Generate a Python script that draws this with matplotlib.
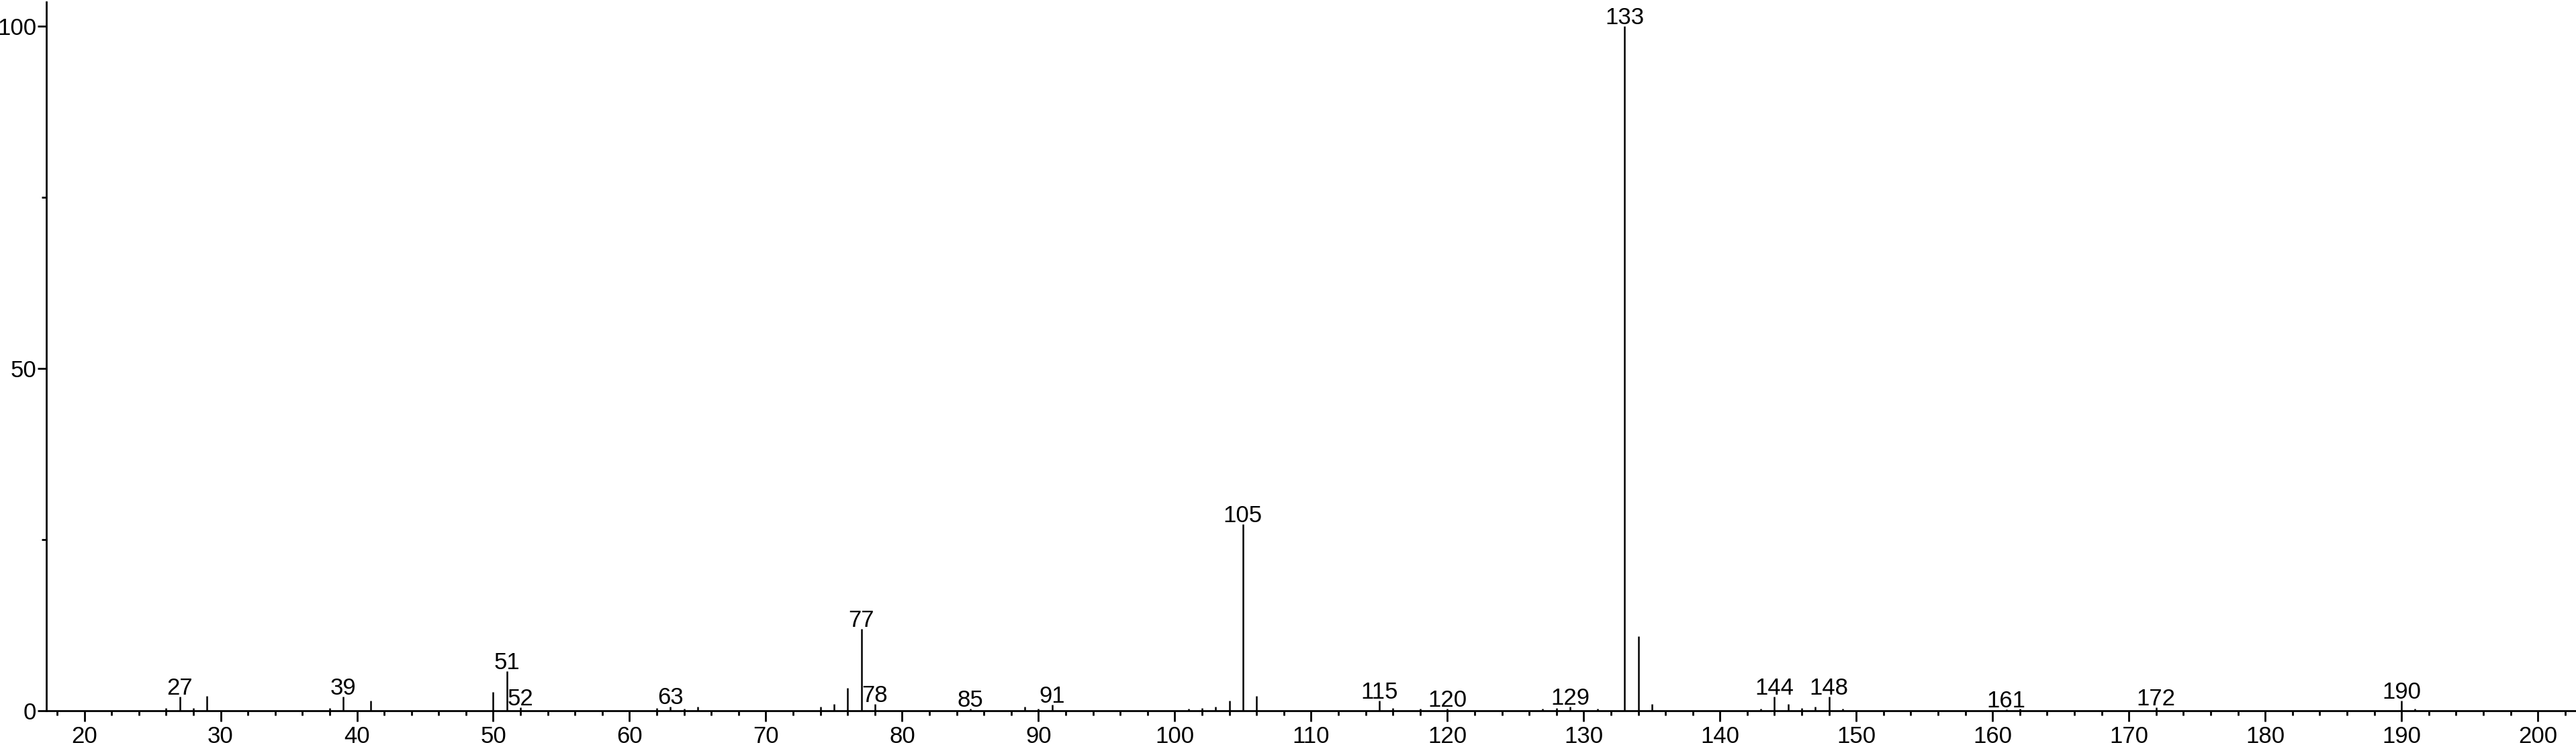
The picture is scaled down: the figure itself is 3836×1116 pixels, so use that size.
import matplotlib
matplotlib.use("Agg")
import matplotlib.pyplot as plt
import matplotlib.ticker as ticker

plt.rcParams.update({
    "font.family": ["Liberation Sans", "DejaVu Sans"],
    "font.size": 25,
    "axes.linewidth": 2.0,
})

# m/z values and relative intensities
mz = [26, 27, 28, 29, 38, 39, 41, 50, 51, 52, 62, 63, 64, 65,
      74, 75, 76, 77, 78, 85, 89, 90, 91, 101, 102, 103, 104, 105, 106,
      115, 116, 118, 120, 127, 128, 129, 131, 133, 134, 135,
      143, 144, 145, 146, 147, 148, 149, 161, 162, 172, 190, 191]
intensity = [0.3, 2.0, 0.3, 2.1, 0.3, 2.0, 1.4, 2.7, 5.7, 0.4, 0.3, 0.55, 0.25, 0.5,
             0.5, 0.9, 3.3, 11.9, 0.9, 0.2, 0.5, 0.2, 0.8, 0.2, 0.3, 0.5, 1.4, 27.2, 2.1,
             1.4, 0.3, 0.2, 0.2, 0.2, 0.3, 0.5, 0.2, 100.0, 10.8, 0.9,
             0.2, 2.0, 0.9, 0.3, 0.5, 2.0, 0.2, 0.15, 0.25, 0.4, 1.4, 0.2]
labelled = [27, 39, 51, 52, 63, 77, 78, 85, 91, 105, 115, 120, 129,
            133, 144, 148, 161, 172, 190]

fig = plt.figure(figsize=(38.36, 11.16), dpi=100)
ax = fig.add_axes([0.01786, 0.0515, 1 - 0.01786, 0.9455])

ax.vlines(mz, 0, intensity, color="black", linewidth=1.8)

for m, i in zip(mz, intensity):
    if m in labelled:
        ax.annotate(str(m), xy=(m, i), xytext=(0, 2.5), textcoords="offset points",
                    ha="center", va="baseline", fontsize=25)

ax.set_xlim(17.19, 202.8)
ax.set_ylim(0, 103.5)

ax.spines["top"].set_visible(False)
ax.spines["right"].set_visible(False)

ax.xaxis.set_major_locator(ticker.MultipleLocator(10))
ax.xaxis.set_minor_locator(ticker.MultipleLocator(2))
ax.yaxis.set_major_locator(ticker.FixedLocator([0, 50, 100]))
ax.yaxis.set_minor_locator(ticker.FixedLocator([25, 75]))

ax.tick_params(axis="x", which="major", length=11.5, width=2.0, pad=5, labelsize=25)
ax.tick_params(axis="x", which="minor", length=5, width=2.0)
ax.tick_params(axis="y", which="major", length=9.4, width=2.0, pad=1, labelsize=25)
ax.tick_params(axis="y", which="minor", length=5, width=2.0)

fig.savefig("out.png", dpi=100)
